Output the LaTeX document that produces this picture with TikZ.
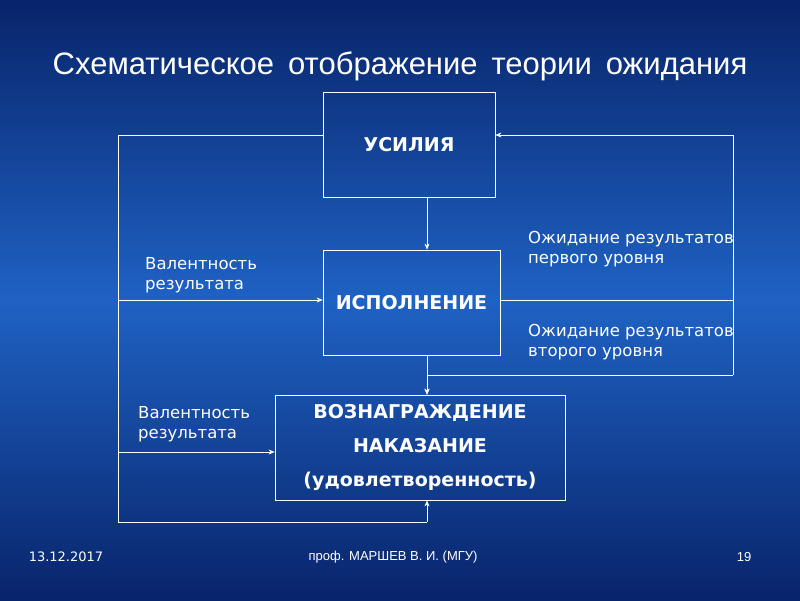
\documentclass[tikz,border=0pt]{standalone}
\usepackage{fontspec}
\setmainfont{DejaVu Sans}
\newfontfamily\arialf{Liberation Sans}
\usetikzlibrary{arrows.meta}
\definecolor{bgtop}{HTML}{08246A}
\definecolor{bgmid}{HTML}{1F62C4}
\tikzset{box/.style={draw=white,line width=0.8pt,text=white,font=\bfseries\fontsize{19}{34}\selectfont,align=center},
ln/.style={draw=white,line width=0.6pt},
ar/.style={ln,-{Stealth[length=6pt,width=5pt]}},
lbl/.style={text=white,font=\fontsize{16.5}{20}\selectfont,align=left,anchor=north west,inner sep=0pt}}
\begin{document}
\begin{tikzpicture}[x=1pt,y=-1pt]
\shade[top color=bgtop,bottom color=bgmid] (0,0) rectangle (800,300);
\shade[top color=bgmid,bottom color=bgtop] (0,300) rectangle (800,600);
\useasboundingbox (0,0) rectangle (800,600);
\node[text=white,font=\arialf\fontsize{31}{34}\selectfont,inner sep=0pt] (title) at (400,66) {Схематическое\hspace{0.45em}отображение\hspace{0.45em}теории\hspace{0.45em}ожидания};
\node[box,minimum width=172pt,minimum height=105pt] (u) at (409,144.5) {УСИЛИЯ};
\node[box,minimum width=177pt,minimum height=105pt] (i) at (411.5,302.5) {ИСПОЛНЕНИЕ};
\node[box,minimum width=290pt,minimum height=105pt] (v) at (420,447.5) {ВОЗНАГРАЖДЕНИЕ\\НАКАЗАНИЕ\\(удовлетворенность)};
\coordinate (l1) at (118,135);
\coordinate (l2) at (118,522);
\coordinate (l3) at (427,522);
\coordinate (r1) at (733,135);
\coordinate (r2) at (733,375);
\coordinate (r3) at (427,375);
\coordinate (la) at (118,300);
\coordinate (lb) at (118,452);
\coordinate (ra) at (733,300);
\draw[ln] (u.west|-l1) -- (l1) -- (l2) -- (l3);
\draw[ar] (l3) -- (l3|-v.south);
\draw[ar] (la) -- (i.west|-la);
\draw[ar] (lb) -- (v.west|-lb);
\draw[ar] (r2) -- (r1) -- (u.east|-r1);
\draw[ln] (i.east|-ra) -- (ra);
\draw[ar] (r2) -- (r3) -- (r3|-v.north);
\draw[ar] (u.south-|r3) -- (r3|-i.north);
\draw[ar] (i.south-|r3) -- (r3|-v.north);
\node[lbl] (t1) at (145,257) {Валентность\\результата};
\node[lbl] (t2) at (138,406) {Валентность\\результата};
\node[lbl] (t3) at (528,231) {Ожидание результатов\\первого уровня};
\node[lbl] (t4) at (528,324) {Ожидание результатов\\второго уровня};
\node[text=white,font=\fontsize{13}{14}\selectfont] (d) at (66,557) {13.12.2017};
\node[text=white,font=\arialf\fontsize{13}{14}\selectfont] (a) at (393,557) {проф. МАРШЕВ В. И. (МГУ)};
\node[text=white,font=\arialf\fontsize{13}{14}\selectfont] (p) at (744,557) {19};
\end{tikzpicture}
\end{document}
